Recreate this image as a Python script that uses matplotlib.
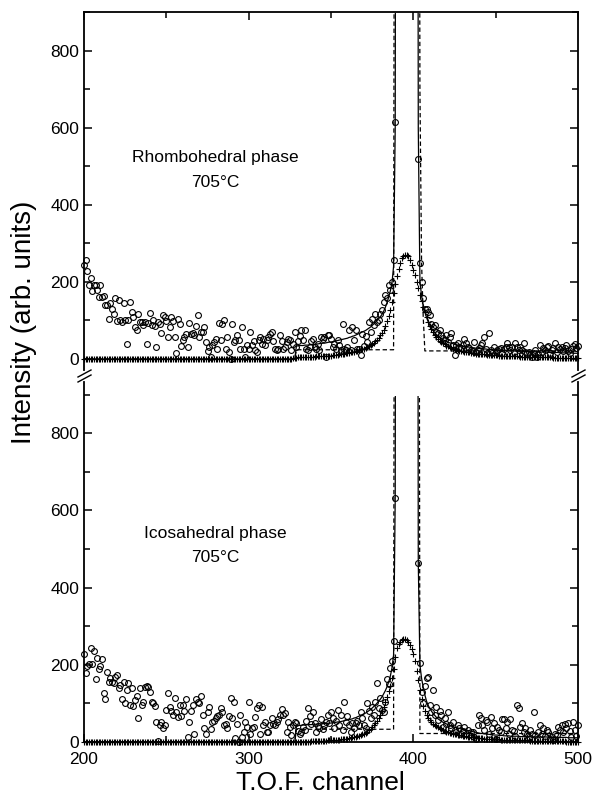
import numpy as np
import matplotlib
matplotlib.use("Agg")
import matplotlib.pyplot as plt
from matplotlib.lines import Line2D
from matplotlib.transforms import Bbox, TransformedBbox

plt.rcParams['font.family'] = ['Liberation Sans', 'DejaVu Sans']

# T.O.F. channels 200..500
channel = np.arange(200, 501)

# ---- rhombohedral phase (top panel) ----
obs_top = [
    243, 258, 228, 191, 211, 177, 191, 193, 178, 161,
    191, 161, 163, 139, 139, 105, 144, 131, 118, 157,
    99, 154, 101, 96, 146, 101, 38, 101, 148, 122,
    109, 82, 75, 116, 96, 96, 88, 96, 38, 94,
    120, 88, 101, 85, 30, 96, 90, 68, 114, 109,
    99, 56, 83, 109, 99, 57, 16, 105, 92, 34,
    50, 57, 64, 30, 94, 64, 68, 62, 85, 113,
    56, 70, 70, 83, 44, 21, 32, 6, 36, 44,
    53, 27, 94, 49, 90, 101, 27, 57, 19, 1,
    90, 44, 49, 62, 49, 25, 83, 25, 4, 36,
    27, 70, 36, 47, 23, 19, 49, 56, 38, 53,
    36, 49, 57, 66, 70, 47, 27, 23, 25, 62,
    47, 25, 30, 44, 53, 49, 23, 38, 70, 32,
    47, 59, 75, 50, 75, 27, 23, 32, 47, 53,
    32, 25, 40, 23, 56, 53, 56, 6, 62, 62,
    53, 32, 40, 27, 49, 36, 23, 90, 27, 23,
    32, 75, 23, 82, 49, 76, 25, 25, 10, 66,
    35, 60, 45, 96, 70, 105, 88, 116, 96, 101,
    116, 127, 148, 165, 157, 191, 178, 200, 258, 615,
    1200, 1200, 1200, 1200, 1200, 1200, 1200, 1200, 1200, 1200,
    1200, 1200, 1200, 520, 250, 200, 157, 131, 129, 123,
    114, 92, 84, 88, 71, 67, 75, 62, 54, 49,
    62, 45, 58, 67, 36, 10, 36, 41, 32, 28,
    36, 51, 41, 32, 28, 23, 22, 45, 19, 23,
    28, 36, 41, 56, 25, 16, 67, 23, 15, 32,
    19, 23, 25, 28, 15, 25, 32, 41, 32, 23,
    32, 19, 42, 32, 23, 30, 23, 42, 19, 15,
    19, 10, 6, 15, 23, 4, 13, 36, 19, 28,
    23, 32, 34, 16, 23, 28, 41, 19, 32, 25,
    30, 20, 28, 36, 22, 15, 25, 34, 40, 28, 35,
]
calc_top = [0] * 127 + [
    2, 3, 3, 4, 4, 4, 5, 5, 5, 5, 6, 6, 6,
    6, 7, 7, 7, 7, 8, 8, 8, 9, 9,
    9, 10, 10, 11, 11, 12, 12, 13, 14, 15,
    15, 16, 17, 18, 19, 20, 22, 23, 25, 26,
    27, 29, 31, 33, 36, 39, 42, 46, 50, 55,
    61, 68, 76, 86, 98, 112, 128, 148, 170, 194,
    216, 234, 249, 261, 268, 271, 271, 266, 257, 245,
    232, 217, 201, 184, 167, 151, 136, 122, 108, 96,
    86, 77, 69, 62, 57, 52, 48, 44, 41, 38,
    35, 33, 31, 29, 27, 26, 24, 23, 22, 21,
    20, 19, 18, 17, 17, 16, 15, 15, 14, 14,
    13, 13, 12, 12, 12, 11, 11, 11, 10, 10,
    10, 10, 9, 9, 9, 9, 8, 8, 8, 8,
    7, 7, 7, 7, 7, 6, 6, 6, 6, 6,
    6, 5, 5, 5, 5, 5, 5, 5, 4, 4,
    4, 4, 4, 4, 4, 3, 3, 3, 3, 3,
    3, 3, 3, 3, 2, 2, 2, 2, 2, 2, 2,
]
fit_top = [0] * 129 + [
    34, 34, 35, 35, 35, 36, 36, 36, 37, 37, 38,
    38, 39, 39, 40, 40, 41, 41, 42, 43, 44,
    44, 45, 46, 47, 48, 49, 50, 51, 52, 53,
    54, 56, 57, 59, 60, 62, 64, 66, 68, 70,
    72, 74, 77, 80, 83, 87, 91, 95, 100, 105,
    110, 116, 124, 134, 146, 160, 176, 196, 240, 600,
    4000, 4000, 4000, 4000, 4000, 4000, 4000, 4000, 4000, 4000,
    4000, 4000, 4000, 600, 200, 165, 140, 122, 108, 97,
    88, 80, 74, 68, 63, 59, 56, 53, 50, 48,
    46, 44, 42, 41, 40, 38, 37, 36, 35, 34,
    33, 33, 32, 31, 31, 30, 29, 29, 28, 28,
    27, 27, 26, 26, 26, 25, 25, 25, 24, 24,
    24, 23, 23, 23, 23, 22, 22, 22, 22, 21,
    21, 21, 21, 21, 20, 20, 20, 20, 20, 19,
    19, 19, 19, 19, 19, 18, 18, 18, 18, 18,
    18, 18, 17, 17, 17, 17, 17, 17, 17, 16,
    16, 16, 16, 16, 16, 16, 16, 15, 15, 15, 15,
]
bg_top = [0] * 129 + [24] * 60 + [3000] * 15 + [700, 250, 110] + [21] * 94

# ---- icosahedral phase (bottom panel) ----
obs_bot = [
    227, 178, 198, 201, 244, 201, 236, 163, 218, 189,
    198, 215, 126, 111, 182, 156, 165, 156, 152, 169,
    173, 139, 148, 111, 156, 100, 135, 152, 96, 141,
    94, 109, 120, 61, 141, 96, 104, 143, 146, 143,
    130, 104, 100, 94, 51, 2, 44, 51, 35, 44,
    83, 128, 91, 80, 71, 115, 78, 65, 96, 68,
    96, 80, 111, 14, 51, 80, 96, 22, 111, 104,
    100, 120, 71, 37, 20, 77, 91, 33, 52, 54,
    61, 68, 71, 89, 77, 44, 46, 35, 68, 115,
    63, 103, 11, 46, 1, 70, 14, 27, 52, 40,
    103, 22, 35, 40, 65, 89, 96, 22, 91, 44,
    52, 25, 25, 44, 61, 46, 44, 52, 59, 70,
    85, 70, 74, 27, 52, 40, 18, 44, 52, 48,
    28, 22, 27, 40, 31, 55, 87, 68, 46, 77,
    50, 27, 42, 35, 60, 33, 45, 52, 71, 48,
    77, 61, 35, 55, 83, 44, 70, 30, 104, 52,
    68, 44, 25, 50, 35, 48, 54, 44, 77, 61,
    44, 35, 100, 80, 61, 91, 70, 103, 152, 89,
    113, 83, 78, 104, 163, 150, 192, 210, 261, 633,
    1200, 1200, 1200, 1200, 1200, 1200, 1200, 1200, 1200, 1200,
    1200, 1200, 1200, 464, 204, 130, 100, 145, 165, 169,
    96, 78, 135, 70, 91, 57, 80, 70, 40, 63,
    46, 77, 44, 35, 52, 30, 27, 45, 37, 20,
    28, 40, 22, 30, 18, 25, 27, 12, 9, 44,
    70, 61, 44, 30, 57, 52, 20, 65, 35, 48,
    9, 40, 30, 27, 59, 59, 35, 52, 22, 59,
    30, 28, 15, 96, 89, 40, 48, 25, 35, 20,
    14, 30, 22, 77, 18, 9, 25, 44, 20, 35,
    15, 31, 25, 9, 12, 5, 22, 18, 40, 30,
    44, 25, 46, 35, 48, 28, 14, 52, 30, 16, 44,
]
calc_bot = [0] * 127 + [
    0, 0, 1, 1, 1, 1, 1, 1, 1, 1, 1, 2, 2,
    2, 2, 2, 2, 3, 3, 3, 3, 4, 4,
    4, 5, 5, 5, 6, 6, 7, 7, 8, 9,
    9, 10, 11, 12, 13, 14, 15, 16, 18, 20,
    22, 24, 27, 30, 34, 38, 43, 48, 54, 62,
    70, 80, 91, 103, 117, 131, 146, 165, 190, 220,
    243, 254, 260, 264, 267, 267, 265, 260, 250, 242,
    228, 210, 185, 160, 135, 112, 94, 81, 70, 62,
    56, 51, 47, 44, 41, 38, 35, 33, 31, 29,
    27, 26, 24, 23, 22, 21, 20, 19, 18, 17,
    16, 15, 15, 14, 13, 13, 12, 12, 11, 11,
    11, 10, 10, 9, 9, 9, 8, 8, 8, 7,
    7, 7, 7, 6, 6, 6, 6, 6, 5, 5,
    5, 5, 5, 5, 4, 4, 4, 4, 4, 4,
    4, 3, 3, 3, 3, 3, 3, 3, 3, 3,
    2, 2, 2, 2, 2, 2, 2, 2, 2, 2,
    2, 2, 2, 1, 1, 1, 1, 1, 1, 1, 1,
]
fit_bot = [0] * 129 + [
    42, 43, 43, 43, 44, 44, 44, 45, 45, 45, 46,
    46, 46, 47, 47, 47, 48, 48, 48, 48, 49,
    49, 50, 50, 51, 52, 52, 53, 54, 55, 56,
    57, 58, 59, 60, 62, 63, 65, 67, 69, 71,
    73, 75, 78, 81, 84, 88, 92, 96, 101, 106,
    111, 117, 125, 133, 143, 155, 170, 191, 225, 633,
    4000, 4000, 4000, 4000, 4000, 4000, 4000, 4000, 4000, 4000,
    4000, 4000, 4000, 464, 200, 165, 142, 122, 106, 95,
    87, 80, 74, 69, 64, 60, 57, 54, 51, 49,
    47, 45, 43, 41, 40, 38, 37, 36, 35, 34,
    33, 32, 31, 30, 29, 28, 27, 26, 25, 24,
    23, 22, 22, 21, 21, 20, 20, 19, 19, 18,
    18, 18, 17, 17, 17, 16, 16, 16, 16, 15,
    15, 15, 15, 15, 15, 14, 14, 14, 14, 14,
    14, 14, 13, 13, 13, 13, 13, 13, 13, 13,
    13, 13, 13, 12, 12, 12, 12, 12, 12, 12,
    12, 12, 12, 12, 11, 11, 11, 11, 11, 11, 11,
]
bg_bot = [0] * 129 + [33] * 60 + [3000] * 15 + [22] * 97

panels = [
    ("Rhombohedral phase", obs_top, calc_top, fit_top, bg_top),
    ("Icosahedral phase", obs_bot, calc_bot, fit_bot, bg_bot),
]

W, H = 594, 797
fig = plt.figure(figsize=(W / 100, H / 100), dpi=100)


def fx(px):
    return px / W


def fy(py):
    return 1 - py / H


left, right = 84, 578
ax_top = fig.add_axes([fx(left), fy(370), fx(right - left), fy(12) - fy(370)])
ax_bot = fig.add_axes([fx(left), fy(742), fx(right - left), fy(382) - fy(742)])
ax_top.set_ylim(-28.5, 899)
ax_bot.set_ylim(0, 932.6)

for ax, (name, obs, calc, fit, bg) in zip([ax_top, ax_bot], panels):
    arts = []
    arts += ax.plot(channel, bg, color='black', lw=0.9, ls=(0, (3.5, 2.2)))
    arts += ax.plot(channel, fit, color='black', lw=0.9)
    arts += ax.plot(channel, calc, ls='none', marker='+', ms=4, mew=0.8,
                    color='black')
    arts += ax.plot(channel, obs, ls='none', marker='o', ms=4.2, mew=0.8,
                    mfc='none', mec='black')
    # curves stop just under 900
    clip = TransformedBbox(Bbox([[190, -60], [510, 897]]), ax.transData)
    for a in arts:
        a.set_clip_box(clip)

    ax.set_xlim(200, 500)
    ax.set_xticks([200, 300, 400, 500])
    ax.set_xticks([250, 350, 450], minor=True)
    ax.set_yticks([0, 200, 400, 600, 800])
    ax.set_yticks([100, 300, 500, 700, 900], minor=True)
    ax.tick_params(which='both', direction='in', width=1.1, left=True,
                   right=True, labelsize=12.5, pad=3.5)
    ax.tick_params(which='major', length=6)
    ax.tick_params(which='minor', length=4)
    ax.tick_params(axis='x', pad=7)
    for s in ax.spines.values():
        s.set_linewidth(1.3)
    ax.text(280, 523 if ax is ax_top else 541, name, ha='center',
            va='center', fontsize=12.5)
    ax.text(280, 458 if ax is ax_top else 477, "705\u00b0C", ha='center',
            va='center', fontsize=12.5)

ax_top.spines['bottom'].set_visible(False)
ax_top.tick_params(axis='x', which='both', bottom=False, top=True,
                   labelbottom=False)
ax_bot.spines['top'].set_visible(False)
ax_bot.tick_params(axis='x', which='both', top=False, bottom=True)

# axis break marks
for x0 in (left, right):
    for dy in (0, 5):
        fig.add_artist(Line2D([fx(x0 - 6), fx(x0 + 7)],
                              [fy(377 + dy), fy(370 + dy)],
                              color='black', lw=1.0))

fig.text(fx(24), fy(322), "Intensity (arb. units)", rotation=90,
         ha='center', va='center', fontsize=20)
fig.text(fx(320), fy(783), "T.O.F. channel", ha='center', va='center',
         fontsize=19)

fig.savefig("out.png", dpi=100)
